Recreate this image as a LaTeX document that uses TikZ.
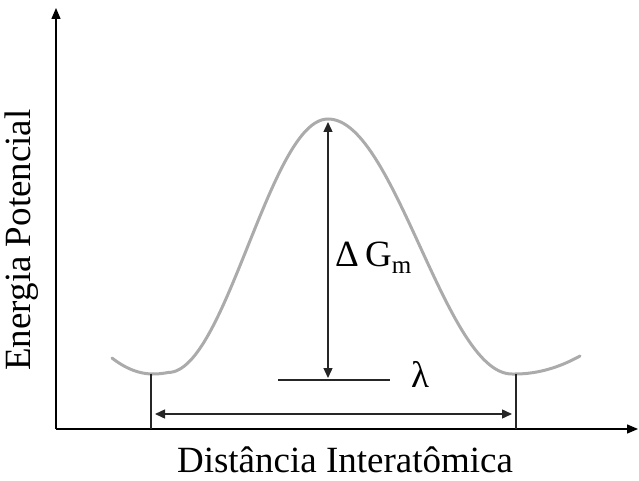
\documentclass[tikz,border=0pt]{standalone}
\usepackage{fontspec}
\setmainfont{Liberation Serif}
\usetikzlibrary{arrows.meta}
\begin{document}
\begin{tikzpicture}[x=1pt,y=-1pt,
  axis/.style={draw=black,line width=1.4pt,-{Triangle[length=11pt,width=9pt]}},
  dim/.style={draw=black!85,line width=1.4pt,{Triangle[length=10pt,width=9pt]}-{Triangle[length=10pt,width=9pt]}},
  guide/.style={draw=black!85,line width=1.3pt},
  energy/.style={draw=black!33,line width=3pt,line cap=round,line join=round},
  lbl/.style={inner sep=0pt,font=\fontsize{37}{37}\selectfont}]
\useasboundingbox (0,0) rectangle (639,481);
\coordinate (O) at (56,429);
\coordinate (ytip) at (56,8);
\coordinate (xtip) at (638,429);
\coordinate (peak) at (328,120);
\coordinate (lmin) at (151,374);
\coordinate (rmin) at (516,374);
\coordinate (lbase) at (151,429);
\coordinate (rbase) at (516,429);
\coordinate (la) at (151,414);
\coordinate (ra) at (516,414);
\coordinate (lamL) at (278,380);
\coordinate (lamR) at (390,380);
\coordinate (lamC) at (328,380);
% axes
\draw[axis] (O) -- (ytip);
\draw[axis] (O) -- (xtip);
% energy curve
\draw[energy]
  plot[domain=112:168,samples=30] (\x,{374-16*(max(153-\x,0)/41)^2-1.5*(max(\x-153,0)/15)^2})
  -- plot[domain=168:328,samples=60] (\x,{374-1.5-253.5*(1+cos((\x-328)/160*180))/2})
  -- plot[domain=328:512,samples=60] (\x,{374-255*(1+cos((\x-328)/184*180))/2})
  -- plot[domain=512:580,samples=30] (\x,{374-18*(max(\x-515,0)/65)^2});
% guides
\draw[guide] (lmin) -- (lbase);
\draw[guide] (rmin) -- (rbase);
\draw[guide] (lamL) -- (lamR);
% dimension arrows
\draw[dim,shorten <=2pt,shorten >=2pt] (peak) -- (lamC);
\draw[dim,shorten <=4pt,shorten >=4pt] (la) -- (ra);
% labels
\node[lbl,anchor=west] (dg) at (335,258) {Δ\,G\raisebox{-7pt}{\fontsize{25}{25}\selectfont m}};
\node[lbl,anchor=center] (lam) at (420,374) {λ};
\node[lbl,anchor=center] (xl) at (345,460) {Distância Interatômica};
\node[lbl,anchor=center,rotate=90] (yl) at (22,240) {Energia Potencial};
\end{tikzpicture}
\end{document}
